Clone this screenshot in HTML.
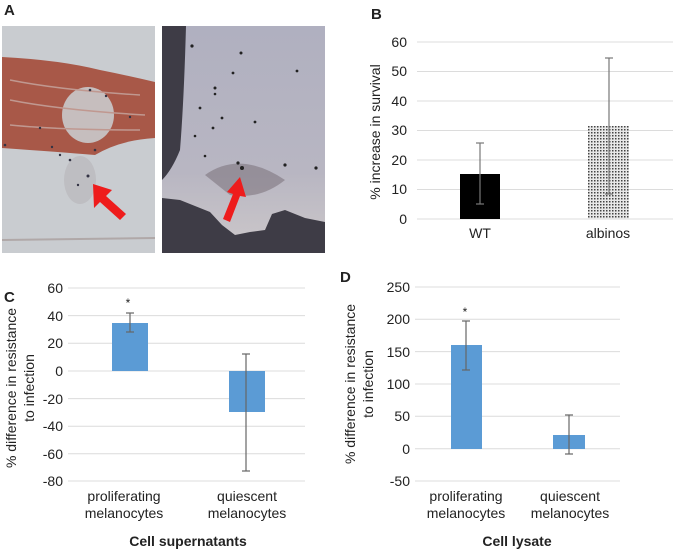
<!DOCTYPE html>
<html><head><meta charset="utf-8"><style>
body{margin:0;background:#fff}
svg text{font-family:"Liberation Sans",Arial,sans-serif;fill:#222}
</style></head><body>
<svg width="675" height="551" viewBox="0 0 675 551" xmlns="http://www.w3.org/2000/svg">
<defs>
<pattern id="dots" width="3" height="3" patternUnits="userSpaceOnUse"><rect width="3" height="3" fill="#e8e8e8"/><rect width="1.5" height="1.5" fill="#444"/></pattern>
<linearGradient id="fish" x1="0" y1="0" x2="0" y2="1"><stop offset="0" stop-color="#b0b0c0"/><stop offset="0.7" stop-color="#b8b6c2"/><stop offset="1" stop-color="#c8c4c8"/></linearGradient>
</defs>
<!-- Panel A -->
<text x="4" y="15" font-size="15" font-weight="bold">A</text>
<rect x="2" y="26" width="153" height="227" fill="#c9ccd0"/>
<path d="M2 57 Q60 60 100 70 Q130 76 155 82 L155 138 Q120 140 95 155 Q60 152 2 148 Z" fill="#a85848"/>
<ellipse cx="88" cy="115" rx="26" ry="28" fill="#c6bebe"/>
<path d="M10 80 Q60 90 140 95 M10 100 Q60 110 145 115 M10 125 Q60 130 140 130" stroke="#c09890" stroke-width="1.5" fill="none"/>
<ellipse cx="80" cy="180" rx="16" ry="24" fill="#b4b0b4" opacity="0.5"/>
<g fill="#334">
<circle cx="88" cy="176" r="1.5"/><circle cx="70" cy="160" r="1.3"/><circle cx="95" cy="150" r="1.3"/><circle cx="60" cy="155" r="1.2"/><circle cx="78" cy="185" r="1.2"/><circle cx="52" cy="147" r="1.2"/><circle cx="5" cy="145" r="1.3"/><circle cx="90" cy="90" r="1.3"/><circle cx="106" cy="96" r="1.2"/><circle cx="130" cy="117" r="1.2"/><circle cx="40" cy="128" r="1.2"/></g>
<path d="M2 240 L155 238" stroke="#b0a8a8" stroke-width="2"/>
<polygon points="93,184 112,190 106,196 126,214 120,220 100,202 94,208" fill="#ee1c1c"/>
<rect x="162" y="26" width="163" height="227" fill="#3e3c46"/>
<path d="M186 26 L325 26 L325 222 L305 218 L285 210 L272 214 L265 230 L250 232 L235 235 L222 225 L210 212 L180 200 L162 198 L162 180 Q172 170 180 150 Q184 100 186 26 Z" fill="url(#fish)"/>
<path d="M205 175 Q240 150 285 180 Q260 200 230 195 Z" fill="#6a6068" opacity="0.45"/>
<g fill="#222"><circle cx="192" cy="46" r="1.6"/><circle cx="241" cy="53" r="1.5"/><circle cx="233" cy="73" r="1.4"/><circle cx="215" cy="88" r="1.5"/><circle cx="215" cy="94" r="1.3"/><circle cx="200" cy="108" r="1.4"/><circle cx="222" cy="118" r="1.4"/><circle cx="255" cy="122" r="1.4"/><circle cx="213" cy="128" r="1.4"/><circle cx="297" cy="71" r="1.4"/><circle cx="195" cy="136" r="1.3"/><circle cx="205" cy="156" r="1.3"/><circle cx="242" cy="168" r="2"/><circle cx="285" cy="165" r="1.6"/><circle cx="316" cy="168" r="1.6"/><circle cx="238" cy="163" r="1.6"/></g>
<polygon points="240,177 246,197 240,196 230,222 223,219 233,194 227,192" fill="#ee1c1c"/>
<!-- Panel B -->
<text x="371" y="19" font-size="15" font-weight="bold">B</text>
<g stroke="#dcdcdc" stroke-width="1">
<line x1="417" x2="673" y1="42" y2="42"/><line x1="417" x2="673" y1="71.5" y2="71.5"/><line x1="417" x2="673" y1="101" y2="101"/><line x1="417" x2="673" y1="130.5" y2="130.5"/><line x1="417" x2="673" y1="160" y2="160"/><line x1="417" x2="673" y1="189.5" y2="189.5"/><line x1="417" x2="673" y1="219" y2="219"/></g>
<g font-size="14" text-anchor="end"><text x="407" y="47">60</text><text x="407" y="76">50</text><text x="407" y="106">40</text><text x="407" y="135">30</text><text x="407" y="165">20</text><text x="407" y="194">10</text><text x="407" y="224">0</text></g>
<rect x="460" y="174" width="40" height="45" fill="#000"/>
<rect x="588" y="126" width="41" height="93" fill="url(#dots)"/>
<g stroke="#777" stroke-width="1.2"><line x1="480" x2="480" y1="143" y2="204"/><line x1="476" x2="484" y1="143" y2="143"/><line x1="476" x2="484" y1="204" y2="204"/>
<line x1="609" x2="609" y1="58" y2="194"/><line x1="605" x2="613" y1="58" y2="58"/><line x1="605" x2="613" y1="194" y2="194"/></g>
<text x="480" y="238" font-size="14" text-anchor="middle">WT</text>
<text x="608" y="238" font-size="14" text-anchor="middle">albinos</text>
<text transform="translate(380,132) rotate(-90)" font-size="14" text-anchor="middle">% increase in survival</text>
<!-- Panel C -->
<text x="4" y="302" font-size="15" font-weight="bold">C</text>
<g stroke="#dcdcdc"><line x1="68" x2="305" y1="288" y2="288"/><line x1="68" x2="305" y1="315.6" y2="315.6"/><line x1="68" x2="305" y1="343.2" y2="343.2"/><line x1="68" x2="305" y1="371" y2="371"/><line x1="68" x2="305" y1="398.6" y2="398.6"/><line x1="68" x2="305" y1="426.2" y2="426.2"/><line x1="68" x2="305" y1="453.8" y2="453.8"/><line x1="68" x2="305" y1="481" y2="481"/></g>
<g font-size="14" text-anchor="end"><text x="63" y="293">60</text><text x="63" y="321">40</text><text x="63" y="348">20</text><text x="63" y="376">0</text><text x="63" y="404">-20</text><text x="63" y="431">-40</text><text x="63" y="459">-60</text><text x="63" y="486">-80</text></g>
<rect x="112" y="323" width="36" height="48" fill="#5b9bd5"/>
<rect x="229" y="371" width="36" height="41" fill="#5b9bd5"/>
<g stroke="#666" stroke-width="1.2"><line x1="130" x2="130" y1="313" y2="332"/><line x1="126" x2="134" y1="313" y2="313"/><line x1="126" x2="134" y1="332" y2="332"/>
<line x1="246" x2="246" y1="354" y2="471"/><line x1="242" x2="250" y1="354" y2="354"/><line x1="242" x2="250" y1="471" y2="471"/></g>
<text x="128" y="307" font-size="12" text-anchor="middle">*</text>
<g font-size="14" text-anchor="middle"><text x="124" y="501">proliferating</text><text x="124" y="518">melanocytes</text><text x="247" y="501">quiescent</text><text x="247" y="518">melanocytes</text></g>
<text x="188" y="546" font-size="14" font-weight="bold" text-anchor="middle">Cell supernatants</text>
<text transform="translate(16,388) rotate(-90)" font-size="14" text-anchor="middle">% difference in resistance</text>
<text transform="translate(34,388) rotate(-90)" font-size="14" text-anchor="middle">to infection</text>
<!-- Panel D -->
<text x="340" y="282" font-size="15" font-weight="bold">D</text>
<g stroke="#dcdcdc"><line x1="415" x2="620" y1="287" y2="287"/><line x1="415" x2="620" y1="319.3" y2="319.3"/><line x1="415" x2="620" y1="351.6" y2="351.6"/><line x1="415" x2="620" y1="384" y2="384"/><line x1="415" x2="620" y1="416.3" y2="416.3"/><line x1="415" x2="620" y1="448.7" y2="448.7"/><line x1="415" x2="620" y1="481" y2="481"/></g>
<g font-size="14" text-anchor="end"><text x="410" y="292">250</text><text x="410" y="324">200</text><text x="410" y="357">150</text><text x="410" y="389">100</text><text x="410" y="421">50</text><text x="410" y="454">0</text><text x="410" y="486">-50</text></g>
<rect x="451" y="345" width="31" height="104" fill="#5b9bd5"/>
<rect x="553" y="435" width="32" height="14" fill="#5b9bd5"/>
<g stroke="#666" stroke-width="1.2"><line x1="466" x2="466" y1="321" y2="370"/><line x1="462" x2="470" y1="321" y2="321"/><line x1="462" x2="470" y1="370" y2="370"/>
<line x1="569" x2="569" y1="415" y2="454"/><line x1="565" x2="573" y1="415" y2="415"/><line x1="565" x2="573" y1="454" y2="454"/></g>
<text x="465" y="316" font-size="12" text-anchor="middle">*</text>
<g font-size="14" text-anchor="middle"><text x="466" y="501">proliferating</text><text x="466" y="518">melanocytes</text><text x="570" y="501">quiescent</text><text x="570" y="518">melanocytes</text></g>
<text x="517" y="546" font-size="14" font-weight="bold" text-anchor="middle">Cell lysate</text>
<text transform="translate(355,384) rotate(-90)" font-size="14" text-anchor="middle">% difference in resistance</text>
<text transform="translate(373,384) rotate(-90)" font-size="14" text-anchor="middle">to infection</text>
</svg>
</body></html>
